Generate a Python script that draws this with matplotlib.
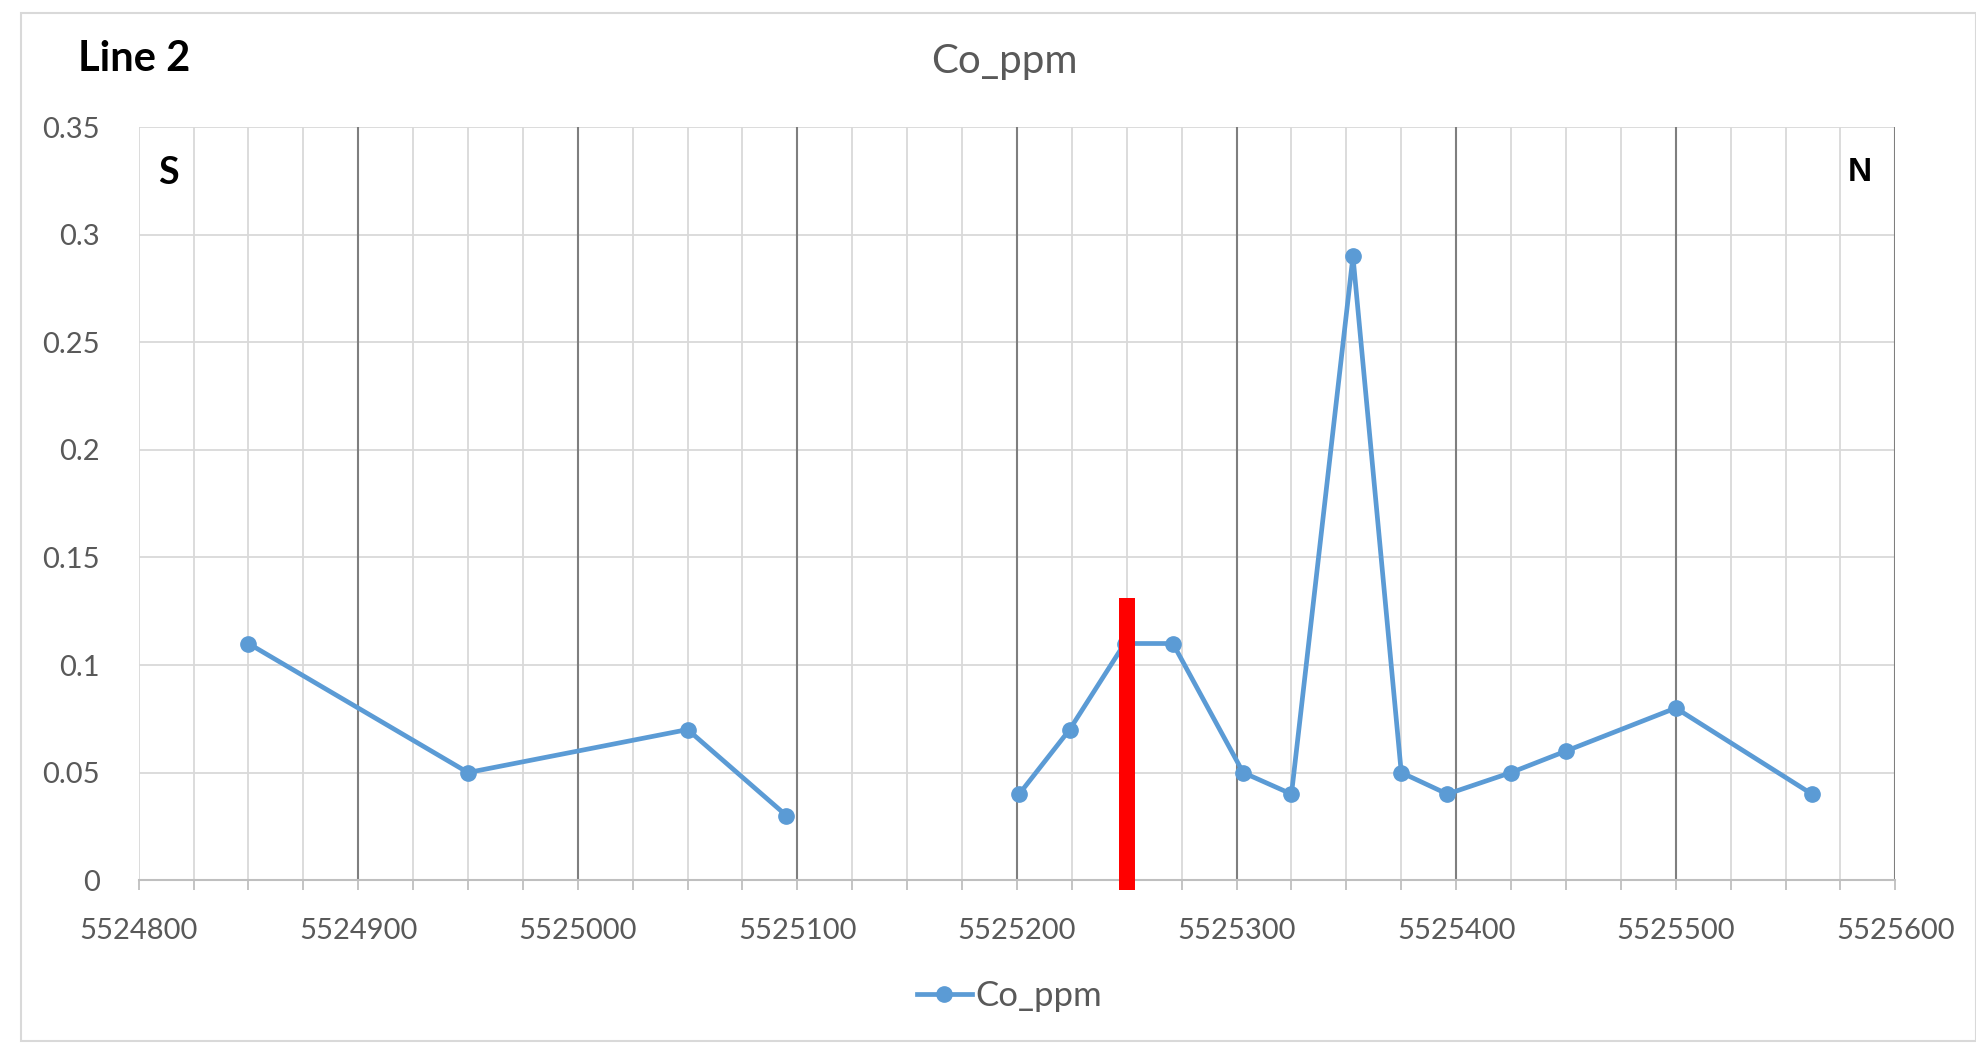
import numpy as np
import matplotlib
matplotlib.use('Agg')
import matplotlib.pyplot as plt
from matplotlib.patches import Rectangle
from matplotlib.lines import Line2D

plt.rcParams['font.family'] = ['Lato', 'DejaVu Sans']

# ── data ─────────────────────────────────────────────────────────────────────
# two runs of samples: the line breaks between 5525095 and 5525201
northing_a = [5524850, 5524950, 5525050, 5525095]
co_ppm_a = [0.11, 0.05, 0.07, 0.03]
northing_b = [5525201, 5525224, 5525249, 5525271, 5525303, 5525325, 5525353,
              5525375, 5525396, 5525425, 5525450, 5525500, 5525562]
co_ppm_b = [0.04, 0.07, 0.11, 0.11, 0.05, 0.04, 0.29,
            0.05, 0.04, 0.05, 0.06, 0.08, 0.04]

x_ticks = [5524800, 5524900, 5525000, 5525100, 5525200,
           5525300, 5525400, 5525500, 5525600]
y_ticks = [0, 0.05, 0.1, 0.15, 0.2, 0.25, 0.3, 0.35]
y_labels = ['0', '0.05', '0.1', '0.15', '0.2', '0.25', '0.3', '0.35']
dividers = [5524900, 5525000, 5525100, 5525200, 5525300, 5525400, 5525500, 5525600]
marker_x = 5525250            # red marker bar position
marker_y = (-0.0045, 0.131)

BLUE = '#5b9bd5'
GREY_TXT = '#595959'
LW, MS = 3.4, 11

fig = plt.figure(figsize=(19.76, 10.44), dpi=100)
fig.patches.append(Rectangle((17 / 1568, 2 / 828), 1 - 17 / 1568, 1 - 12 / 828,
                             transform=fig.transFigure, fill=False,
                             edgecolor='#d9d9d9', lw=1.5))

ax = fig.add_axes([110 / 1568, 1 - 698 / 828, 1394 / 1568, 597 / 828])

for xs, ys in [(northing_a, co_ppm_a), (northing_b, co_ppm_b)]:
    ax.plot(xs, ys, color=BLUE, lw=LW, marker='o', ms=MS, zorder=4)

ax.set_xlim(x_ticks[0], x_ticks[-1])
ax.set_ylim(0, 0.35)
ax.set_xticks(x_ticks)
ax.set_xticks(np.arange(x_ticks[0], x_ticks[-1] + 1, 25), minor=True)
ax.set_yticks(y_ticks)
ax.set_yticklabels(y_labels)
ax.set_xticklabels([str(v) for v in x_ticks])

ax.set_axisbelow(True)
ax.grid(True, which='both', axis='x', color='#d9d9d9', lw=1.3)
ax.grid(True, which='major', axis='y', color='#d9d9d9', lw=1.3)
for xd in dividers:
    ax.axvline(xd, color='#7f7f7f', lw=1.5, zorder=2)

ax.vlines(marker_x, marker_y[0], marker_y[1], color='#ff0000', lw=11.5,
          zorder=5, clip_on=False)

for side in ['top', 'left', 'right']:
    ax.spines[side].set_visible(False)
ax.spines['bottom'].set_color('#bfbfbf')
ax.spines['bottom'].set_linewidth(1.5)

ax.tick_params(axis='x', which='both', direction='out', length=7,
               color='#bfbfbf', width=1.3)
ax.tick_params(axis='x', which='major', labelsize=21, labelcolor=GREY_TXT, pad=20)
ax.tick_params(axis='y', length=0, labelsize=21, labelcolor=GREY_TXT, pad=28)

fig.text(62 / 1568, 1 - 47 / 828, 'Line 2', fontsize=30, fontweight='bold',
         va='center', ha='left', color='black')
fig.text(797 / 1568, 1 - 49 / 828, 'Co_ppm', fontsize=29, va='center',
         ha='center', color=GREY_TXT)
ax.text(0.011, 0.94, 'S', transform=ax.transAxes, fontsize=27,
        fontweight='bold', ha='left', va='center')
ax.text(0.980, 0.94, 'N', transform=ax.transAxes, fontsize=24,
        fontweight='bold', ha='center', va='center',
        family=['Liberation Sans', 'DejaVu Sans'])

handle = Line2D([], [], color=BLUE, lw=LW, marker='o', ms=MS)
fig.legend([handle], ['Co_ppm'], loc='center', bbox_to_anchor=(801 / 1568, 1 - 790 / 828),
           frameon=False, fontsize=25, labelcolor=GREY_TXT, handlelength=1.6,
           handletextpad=0.1)

plt.savefig('out.png', dpi=100)
